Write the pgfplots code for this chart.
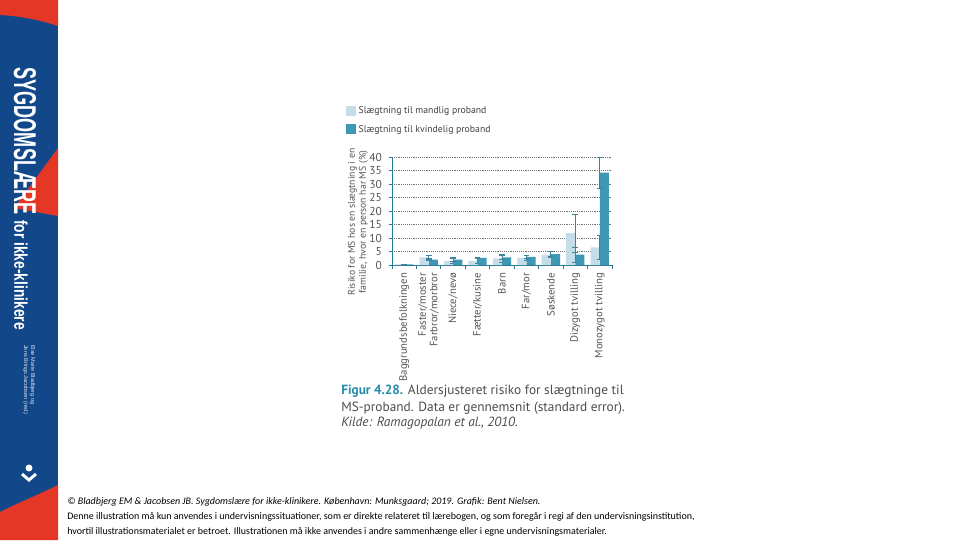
\documentclass[border=0pt]{standalone}
\usepackage{pgfplots}
\pgfplotsset{compat=1.18}
\usepackage{fontspec}
\setmainfont{PT Sans}
\newfontfamily\footfont{Carlito}
\newfontfamily\spinefont{Liberation Sans}

\definecolor{spineblue}{RGB}{18,72,138}
\definecolor{spinered}{RGB}{228,55,38}
\definecolor{barlight}{RGB}{197,221,232}
\definecolor{bardark}{RGB}{62,151,181}
\definecolor{axisteal}{RGB}{40,122,148}
\definecolor{errcol}{RGB}{60,132,158}
\definecolor{txtgray}{RGB}{85,85,85}
\definecolor{capteal}{RGB}{38,140,170}

\begin{document}
\begin{tikzpicture}[x=0.75pt,y=0.75pt]
\path[use as bounding box, fill=white] (0,0) rectangle (960,540);

% spine of the book on the left
\fill[spineblue] (0,0) rectangle (58,540);
\fill[spinered] (0,540) -- (58,540) -- (58,514) .. controls (40,520) and (20,524) .. (0,525) -- cycle;
\fill[spinered] (58,392) -- (14,332) -- (58,324) -- cycle;
\fill[spinered] (0,0) -- (0,28) .. controls (20,38) and (40,46) .. (58,55) -- (58,0) -- cycle;
\node[rotate=-90, text=white, inner sep=0pt] at (25,399)
  {\resizebox{110pt}{16.5pt}{\spinefont\bfseries SYGDOMSLÆRE}};
\node[rotate=-90, text=white, inner sep=0pt] at (21,265)
  {\resizebox{82pt}{10pt}{\spinefont\bfseries for ikke-klinikere}};
\node[rotate=-90, text=white!85!spineblue, inner sep=0pt, align=left,
  font=\spinefont\fontsize{4.2}{5.2}\selectfont] at (29,160)
  {Else Marie Bladbjerg og\\Jens Brings Jacobsen (red.)};
\fill[white] (29,72) circle (3.5);
\draw[white, line width=2.2pt] (22,66) -- (29,60) -- (36,66);

\begin{axis}[
  at={(294pt,206.25pt)}, anchor=south west,
  scale only axis, width=165pt, height=81pt,
  xmin=-0.5, xmax=8.5, ymin=0, ymax=40,
  axis x line*=bottom, axis y line*=left,
  axis line style={axisteal, line width=0.6pt},
  ytick={0,5,...,40},
  xtick={0,...,8},
  xticklabels={Baggrundsbefolkningen, {Faster/moster\\Farbror/morbror}, Niece/nevø,
    Fætter/kusine, Barn, Far/mor, Søskende, Dizygot tvilling, Monozygot tvilling},
  minor xtick={-0.5,0.5,...,8.5},
  tick align=outside,
  major tick length=2.5pt, minor tick length=3pt,
  major x tick style={draw=none},
  minor x tick style={axisteal, line width=0.6pt},
  y tick style={axisteal, line width=0.6pt},
  ymajorgrids, grid style={densely dotted, black!55, line width=0.5pt},
  /pgf/number format/assume math mode=true,
  yticklabel style={font=\fontsize{8.6}{10}\selectfont, text=txtgray, xshift=-1.5pt},
  xticklabel style={rotate=90, anchor=east, align=right,
    font=\fontsize{8}{8.6}\selectfont, text=txtgray},
  legend style={at={(-0.21,1.49)}, anchor=north west, draw=none, fill=none,
    font=\fontsize{7.3}{8}\selectfont, text=black!75, row sep=3pt,
    inner sep=0pt, cells={anchor=west}},
  legend cell align=left,
  legend image code/.code={\fill[#1] (0pt,-3.5pt) rectangle (7.5pt,4pt);},
  bar width=0.37,
]
\addplot[ybar, bar shift=-0.19, fill=barlight, draw=none,
  error bars/.cd, y dir=both, y explicit,
  error bar style={draw=errcol, line width=0.7pt},
  error mark options={rotate=90, draw=errcol, mark size=2.2pt, line width=0.7pt}]
  coordinates {
  (0,0.2) +- (0,0)
  (1,2.8) +- (0,0.6)
  (2,1.4) +- (0,0.9)
  (3,1.5) +- (0,0.8)
  (4,2.5) +- (0,1.5)
  (5,2.6) +- (0,0.9)
  (6,3.8) +- (0,1.1)
  (7,11.8) +- (0,7.0)
  (8,6.5) +- (0,4.3)
};
\addlegendentry{Slægtning til mandlig proband}
\addplot[ybar, bar shift=0.19, fill=bardark, draw=none,
  error bars/.cd, y dir=both, y explicit,
  error bar style={draw=errcol, line width=0.7pt},
  error mark options={rotate=90, draw=errcol, mark size=2.2pt, line width=0.7pt}]
  coordinates {
  (0,0.2) +- (0,0)
  (1,2.0) +- (0,0.3)
  (2,2.0) +- (0,0.7)
  (3,2.6) +- (0,0.3)
  (4,2.8) +- (0,0.9)
  (5,3.0) +- (0,0.7)
  (6,4.0) +- (0,0.9)
  (7,3.8) +- (0,2.7)
  (8,34.2) +- (0,5.8)
};
\addlegendentry{Slægtning til kvindelig proband}
\end{axis}

\node[rotate=90, align=center, text=txtgray, font=\fontsize{7.3}{8.4}\selectfont]
  at (358,318) {Risiko for MS hos en slægtning i en\\familie, hvor en person har MS (\%)};

% caption
\begin{scope}[every node/.style={anchor=base west, inner sep=0pt,
    font=\fontsize{10}{12}\selectfont, text=black!70}]
\node at (341,146) {\textcolor{capteal}{\bfseries Figur 4.28.} Aldersjusteret risiko for slægtninge til};
\node at (341,129) {MS-proband. Data er gennemsnit (standard error).};
\node at (341,114) {\itshape Kilde: Ramagopalan et al., 2010.};
\end{scope}

% footer
\begin{scope}[every node/.style={anchor=base west, inner sep=0pt,
    font=\footfont\fontsize{7.5}{8.5}\selectfont, text=black}]
\node at (67,36) {\itshape © Bladbjerg EM \& Jacobsen JB. Sygdomslære for ikke-klinikere. København: Munksgaard; 2019. Grafik: Bent Nielsen.};
\node at (67,21) {Denne illustration må kun anvendes i undervisningssituationer, som er direkte relateret til lærebogen, og som foregår i regi af den undervisningsinstitution,};
\node at (67,6) {hvortil illustrationsmaterialet er betroet. Illustrationen må ikke anvendes i andre sammenhænge eller i egne undervisningsmaterialer.};
\end{scope}
\end{tikzpicture}
\end{document}
